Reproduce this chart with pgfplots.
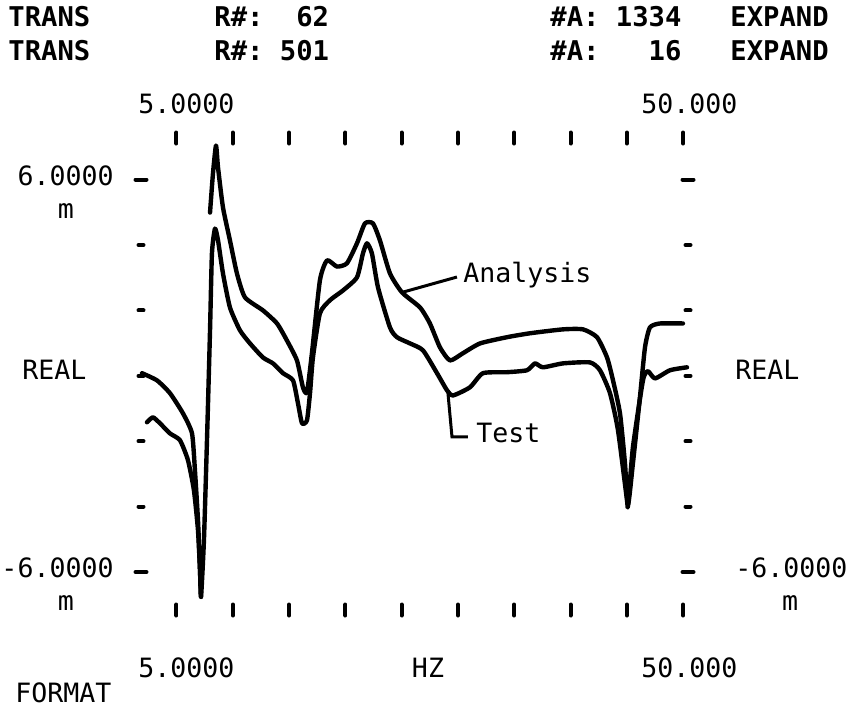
\documentclass[border=0pt]{standalone}
\usepackage{fontspec}
\setmainfont{DejaVu Sans Mono}
\usepackage{pgfplots}
\pgfplotsset{compat=1.18}
\pgfplotsset{curve/.style={black, no markers, line width=2.2pt, line join=round, line cap=round, smooth, tension=0.35}}

\begin{document}
\begin{tikzpicture}
\begin{axis}[
    at={(70.5pt,51.5pt)}, anchor=south west,
    scale only axis, width=273.5pt, height=236pt,
    xmin=1.85, xmax=50.43, ymin=-7.16, ymax=7.27,
    axis line style={draw=none},
    xtick={5,10,...,50}, ytick={-6,6}, minor ytick={-4,-2,0,2,4},
    xticklabels={}, yticklabels={},
    xtick pos=both, ytick pos=both,
    tick align=center,
    major tick length=5.5pt, minor tick length=2.5pt,
    tick style={black, line width=2pt, line cap=round},
    clip=false,
]
% Analysis, left part (pen lifted before the resonance)
\addplot[curve] coordinates {
    (1.94,0.08) (3.27,-0.14) (4.42,-0.53) (5.58,-1.15) (6.38,-1.76)
    (6.64,-2.89) (6.91,-4.41) (7.09,-5.94) (7.18,-6.76)
};
% Analysis, main part
\addplot[curve] coordinates {
    (7.98,4.99) (8.24,6.18) (8.51,7.04) (8.69,6.37) (9.13,5.15) (9.75,4.14)
    (10.37,3.13) (11.08,2.40) (12.68,2.00) (13.93,1.60) (14.81,1.08)
    (15.70,0.47) (16.23,-0.35) (16.59,-0.50) (17.03,0.69) (17.74,2.92)
    (18.37,3.53) (19.25,3.34) (20.14,3.44) (21.03,4.05) (21.74,4.66)
    (22.45,4.66) (23.07,4.14) (23.96,3.13) (25.03,2.55) (26.63,2.09)
    (27.51,1.60) (28.40,0.87) (29.29,0.47) (30.44,0.69) (31.96,0.99)
    (34.35,1.18) (36.39,1.30) (39.33,1.42) (41.10,1.42) (42.35,1.18)
    (43.24,0.56) (43.77,-0.14) (44.39,-1.15) (44.83,-2.67) (45.10,-3.95)
    (45.54,-2.67) (46.16,-0.66) (46.61,0.87) (47.05,1.48) (47.94,1.60)
    (49.98,1.60)
};
% Test
\addplot[curve] coordinates {
    (2.38,-1.42) (2.91,-1.27) (3.53,-1.45) (4.42,-1.76) (5.31,-1.97)
    (6.02,-2.58) (6.55,-3.50) (6.91,-4.72) (7.09,-5.94) (7.18,-6.76)
    (7.44,-5.02) (7.71,-1.97) (7.98,1.39) (8.15,3.74) (8.42,4.50)
    (8.69,4.14) (9.13,3.13) (9.75,2.09) (10.64,1.39) (11.53,0.99)
    (12.68,0.56) (13.57,0.38) (14.46,0.08) (15.35,-0.14) (15.79,-0.84)
    (16.15,-1.45) (16.59,-1.36) (16.86,-0.53) (17.12,0.56) (17.74,1.91)
    (18.63,2.31) (19.79,2.61) (21.03,3.01) (21.56,3.74) (21.92,4.05)
    (22.36,3.74) (22.90,2.70) (23.96,1.48) (24.58,1.18) (25.74,0.99)
    (26.89,0.78) (28.14,0.08) (29.02,-0.44) (29.56,-0.60) (31.07,-0.35)
    (32.22,0.08) (34.35,0.11) (36.13,0.17) (36.84,0.38) (37.55,0.26)
    (39.33,0.38) (41.72,0.41) (42.61,0.17) (43.50,-0.53) (44.21,-1.66)
    (45.01,-3.80) (45.10,-3.95) (45.54,-2.18) (46.43,-0.14) (46.87,0.14)
    (47.50,-0.08) (48.83,0.17) (50.34,0.26)
};
% pointers
\draw[black, line width=1.5pt] (axis cs:25.03,2.55) -- (axis cs:29.91,3.02);
\draw[black, line width=1.5pt] (axis cs:29.11,-0.53) -- (axis cs:29.47,-1.87) -- (axis cs:30.89,-1.87);
\end{axis}

\begin{scope}[x=0.5pt, y=-0.5pt, shift={(0pt,356.5pt)},
    every node/.style={inner sep=0pt, font=\fontsize{13.3pt}{15pt}\selectfont},
    head/.style={anchor=mid west, font=\fontsize{13.6pt}{15pt}\selectfont\bfseries}]
% header
\node[head] at (8,21) {TRANS};
\node[head] at (214,21) {R\#:~~62};
\node[head] at (550,21) {\#A:~1334};
\node[head] at (730,21) {EXPAND};
\node[head] at (8,55) {TRANS};
\node[head] at (214,55) {R\#:~501};
\node[head] at (550,55) {\#A:~~~16};
\node[head] at (730,55) {EXPAND};
% x labels
\node[anchor=mid west] at (138,108) {5.0000};
\node[anchor=mid west] at (641,108) {50.000};
\node[anchor=mid west] at (138,672) {5.0000};
\node[anchor=mid] at (428,672) {HZ};
\node[anchor=mid west] at (641,672) {50.000};
\node[anchor=mid west] at (15,697) {FORMAT};
% left y labels
\node[anchor=mid east] at (114,180) {6.0000};
\node[anchor=mid] at (66,213) {m};
\node[anchor=mid west] at (22,374) {REAL};
\node[anchor=mid east] at (114,572) {-6.0000};
\node[anchor=mid] at (66,605) {m};
% right y labels
\node[anchor=mid west] at (735,374) {REAL};
\node[anchor=mid west] at (735,572) {-6.0000};
\node[anchor=mid] at (790,605) {m};
% curve names
\node[anchor=mid west] at (463,277) {Analysis};
\node[anchor=mid west] at (476,437) {Test};
\end{scope}

\pgfresetboundingbox
\path (0pt,0pt) rectangle (425.5pt,356.5pt);
\end{tikzpicture}
\end{document}
